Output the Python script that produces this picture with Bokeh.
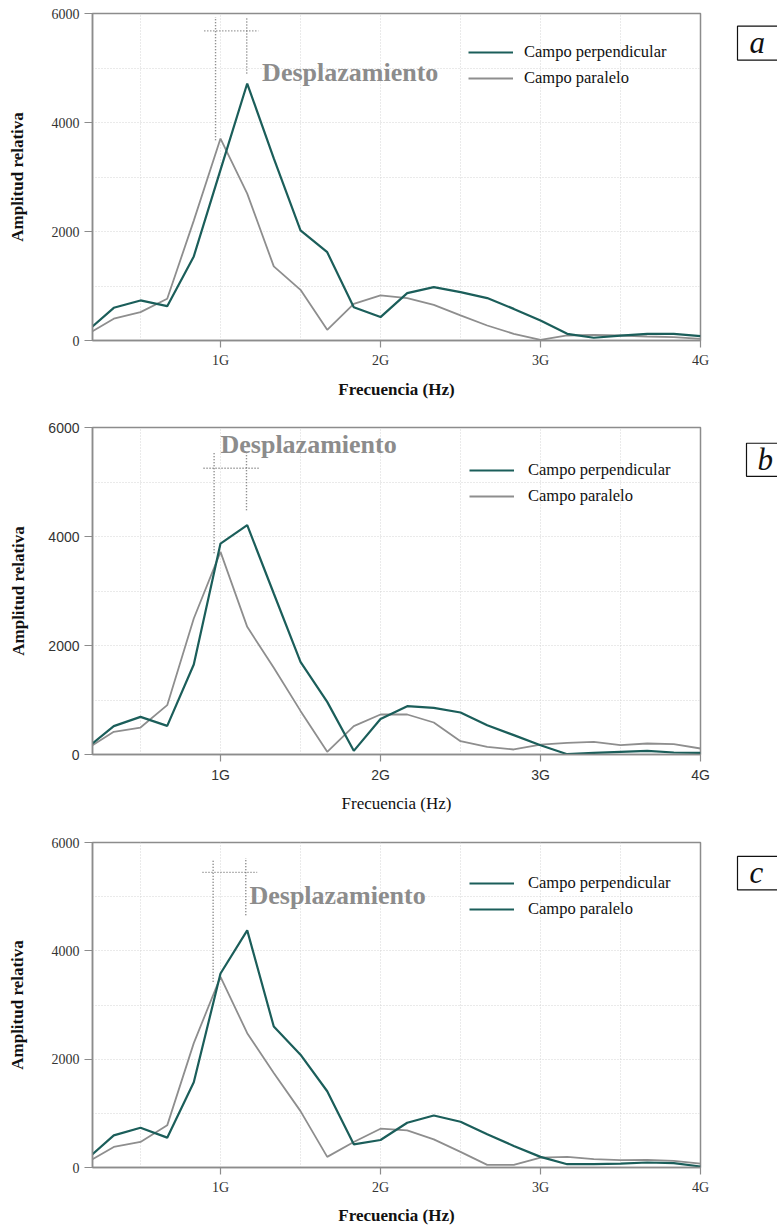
from bokeh.plotting import figure
from bokeh.models import FixedTicker, Label, Legend, LegendItem, Range1d
from bokeh.layouts import column, row
from bokeh.embed import file_html
from bokeh.resources import INLINE
from bokeh.core.properties import value

# ---------------- data ----------------
FREQ_GHZ = [0.2, 0.333, 0.5, 0.667, 0.833, 1.0, 1.167, 1.333, 1.5, 1.667, 1.833, 2.0,
            2.167, 2.333, 2.5, 2.667, 2.833, 3.0, 3.167, 3.333, 3.5, 3.667, 3.833, 4.0]

PERP_A = [257, 600, 735, 630, 1543, 3130, 4715, 3340, 2020, 1620, 610, 430,
          870, 980, 888, 778, 580, 367, 122, 50, 90, 122, 122, 80]
PARA_A = [171, 400, 520, 765, 2200, 3705, 2694, 1360, 930, 196, 673, 827,
          778, 655, 460, 275, 122, 12, 92, 104, 92, 73, 61, 30]

PERP_B = [202, 520, 690, 526, 1651, 3870, 4208, 2954, 1700, 966, 67, 650,
          887, 856, 770, 538, 355, 171, 6, 30, 49, 67, 37, 30]
PARA_B = [171, 416, 495, 905, 2495, 3718, 2342, 1590, 800, 49, 520, 734,
          734, 587, 245, 141, 92, 183, 214, 232, 171, 202, 190, 110]

PERP_C = [245, 594, 735, 551, 1574, 3582, 4378, 2602, 2082, 1408, 428, 508,
          827, 961, 845, 612, 398, 196, 61, 61, 73, 92, 80, 18]
PARA_C = [153, 380, 471, 778, 2296, 3521, 2480, 1745, 1041, 196, 471, 716,
          686, 520, 288, 49, 49, 184, 196, 153, 135, 141, 122, 73]

X_TICKS = [1, 2, 3, 4]
X_MINOR = [0.5, 1.5, 2.5, 3.5]
X_TICK_LABELS = ["1G", "2G", "3G", "4G"]
Y_TICKS = [0, 2000, 4000, 6000]
Y_MINOR = [1000, 3000, 5000]
Y_TICK_LABELS = ["0", "2000", "4000", "6000"]

LEGEND_LABELS = ["Campo perpendicular", "Campo paralelo"]
PANEL_TAGS = ["a", "b", "c"]
SHIFT_TEXT = "Desplazamiento"
X_TITLE = "Frecuencia (Hz)"
Y_TITLE = "Amplitud relativa"

# shift markers: (x_left_peak, x_right_peak, bottom_left, bottom_right, top_left, top_right,
#                 y_horizontal, x_h_start, x_h_end)
MARK_A = [0.969, 1.164, 3674, 4898, 5938, 5938, 5681, 0.899, 1.238]
MARK_B = [0.960, 1.1625, 3694, 4483, 5547, 5547, 5253, 0.894, 1.2375]
MARK_C = [0.954, 1.158, 3429, 4659, 5669, 5712, 5449, 0.8875, 1.229]

# ---------------- style ----------------
TEAL = "#1b5e5a"
GRAY_LINE = "#8e8e8e"
FRAME = "#8c8c8c"
GRID = "#d4d4d4"
SERIF = "Liberation Serif"
SANS = "Liberation Sans"
MAIN_W = 715
TAG_W = 62

panels = [
    dict(perp=PERP_A, para=PARA_A, mark=MARK_A, tag=PANEL_TAGS[0],
         height=414, top=13, bottom=74, tick_font=SERIF, tick_size="14px",
         ytitle_standoff=22,
         xtitle_style="bold", xtitle_standoff=9, shift_xy=(1.26, 4920),
         legend_loc=(376, 249), legend_standoff=11, para_same_color=False,
         tag_box=(737, 16, 59), tag_text=(749, 37)),
    dict(perp=PERP_B, para=PARA_B, mark=MARK_B, tag=PANEL_TAGS[1],
         height=415, top=13, bottom=75, tick_font=SANS, tick_size="14px",
         ytitle_standoff=17,
         xtitle_style="normal", xtitle_standoff=8, shift_xy=(1.0, 5694),
         legend_loc=(377, 245), legend_standoff=14, para_same_color=False,
         tag_box=(746, 20, 62), tag_text=(757, 40)),
    dict(perp=PERP_C, para=PARA_C, mark=MARK_C, tag=PANEL_TAGS[2],
         height=398, top=13, bottom=58, tick_font=SERIF, tick_size="14px",
         ytitle_standoff=22,
         xtitle_style="bold", xtitle_standoff=8, shift_xy=(1.181, 5027),
         legend_loc=(377, 245), legend_standoff=14, para_same_color=True,
         tag_box=(737, 17, 58), tag_text=(749, 37)),
]

rows = []
for cfg in panels:
    p = figure(width=MAIN_W, height=cfg["height"],
               x_range=Range1d(0.2, 4.0), y_range=Range1d(0, 6000),
               output_backend="svg", toolbar_location=None,
               min_border_left=92, min_border_right=MAIN_W - 700,
               min_border_top=cfg["top"], min_border_bottom=cfg["bottom"])
    p.background_fill_color = "white"
    p.border_fill_color = "white"
    p.outline_line_color = FRAME
    p.outline_line_width = 1.5

    # axes
    p.xaxis.ticker = FixedTicker(ticks=X_TICKS, minor_ticks=X_MINOR)
    p.yaxis.ticker = FixedTicker(ticks=Y_TICKS, minor_ticks=Y_MINOR)
    p.xaxis.major_label_overrides = dict(zip(X_TICKS, X_TICK_LABELS))
    p.yaxis.major_label_overrides = dict(zip(Y_TICKS, Y_TICK_LABELS))
    for ax in (p.xaxis[0], p.yaxis[0]):
        ax.axis_line_color = FRAME
        ax.axis_line_width = 1.5
        ax.major_tick_line_color = FRAME
        ax.major_tick_line_width = 1.2
        ax.major_tick_in = 0
        ax.minor_tick_line_color = None
        ax.major_label_text_font = cfg["tick_font"]
        ax.major_label_text_font_size = cfg["tick_size"]
        ax.major_label_text_color = "#333333"
        ax.axis_label_text_font = SERIF
        ax.axis_label_text_font_size = "17px"
        ax.axis_label_text_color = "#111111"
    p.xaxis.major_tick_out = 7
    p.yaxis.major_tick_out = 8
    p.xaxis.major_label_standoff = 5
    p.yaxis.major_label_standoff = 5
    p.xaxis.axis_label = X_TITLE
    p.xaxis.axis_label_text_font_style = cfg["xtitle_style"]
    p.xaxis.axis_label_standoff = cfg["xtitle_standoff"]
    p.yaxis.axis_label = Y_TITLE
    p.yaxis.axis_label_text_font_style = "bold"
    p.yaxis.axis_label_standoff = cfg["ytitle_standoff"]

    # grid
    for g in (p.xgrid[0], p.ygrid[0]):
        g.grid_line_color = GRID
        g.grid_line_dash = "1 2"
        g.grid_line_width = 1
        g.minor_grid_line_color = GRID
        g.minor_grid_line_dash = "1 2"
        g.minor_grid_line_width = 1

    # series
    r_para = p.line(FREQ_GHZ, cfg["para"], color=GRAY_LINE, line_width=1.8)
    r_perp = p.line(FREQ_GHZ, cfg["perp"], color=TEAL, line_width=2.2)

    # shift markers
    m = cfg["mark"]
    p.segment(x0=[m[0], m[1], m[7]], y0=[m[2], m[3], m[6]],
              x1=[m[0], m[1], m[8]], y1=[m[4], m[5], m[6]],
              line_color="#6e6e6e", line_width=1.4, line_dash="1 2")

    p.add_layout(Label(x=cfg["shift_xy"][0], y=cfg["shift_xy"][1], text=SHIFT_TEXT,
                       text_font=SERIF, text_font_style="bold", text_font_size="26px",
                       text_color="#8c8c8c", text_baseline="middle", text_align="left"))

    # legend (panel c shows both entries in teal, as in the original figure)
    r_leg_para = r_perp if cfg["para_same_color"] else r_para
    legend = Legend(items=[LegendItem(label=LEGEND_LABELS[0], renderers=[r_perp]),
                           LegendItem(label=LEGEND_LABELS[1], renderers=[r_leg_para])],
                    location=cfg["legend_loc"], orientation="vertical",
                    border_line_color=None, background_fill_alpha=0,
                    padding=0, margin=0, spacing=0,
                    glyph_width=45, glyph_height=26, label_height=26,
                    label_standoff=cfg["legend_standoff"],
                    label_text_font=SERIF, label_text_font_size="16.5px",
                    label_text_color="#111111")
    p.add_layout(legend)

    # panel tag (separate small canvas to the right, pixel coordinates)
    t = figure(width=TAG_W, height=cfg["height"],
               x_range=Range1d(MAIN_W, MAIN_W + TAG_W), y_range=Range1d(cfg["height"], 0),
               output_backend="svg", toolbar_location=None,
               min_border_left=0, min_border_right=0, min_border_top=0, min_border_bottom=0)
    t.axis.visible = False
    t.grid.visible = False
    t.outline_line_color = None
    t.background_fill_color = "white"
    t.border_fill_color = "white"
    bx, btop, bbot = cfg["tag_box"]
    t.quad(left=[bx], right=[MAIN_W + TAG_W + 20], top=[btop], bottom=[bbot],
           fill_color="white", line_color="#111111", line_width=1.2)
    t.text(x=[cfg["tag_text"][0]], y=[cfg["tag_text"][1]], text=[cfg["tag"]],
           text_font=value(SERIF), text_font_style="italic", text_font_size="31px",
           text_color="#111111", text_baseline="middle", text_align="left")

    rows.append(row(p, t, spacing=0))

layout = column(*rows, spacing=0)
open("out.html", "w").write(file_html(layout, INLINE))
